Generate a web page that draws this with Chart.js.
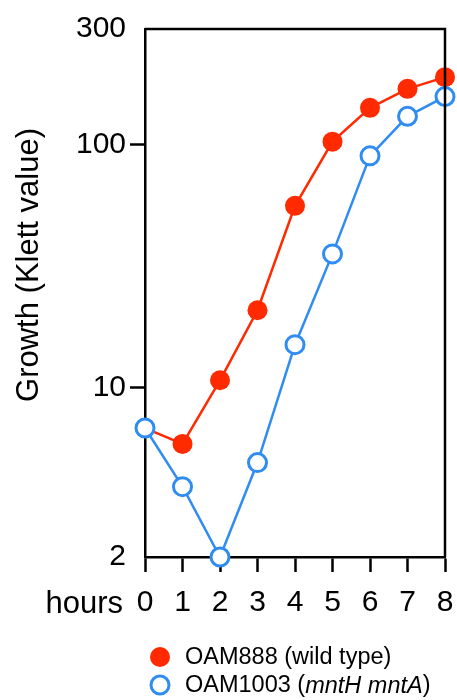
<!DOCTYPE html>
<html>
<head>
<meta charset="utf-8">
<script src="https://cdn.jsdelivr.net/npm/chart.js@4.4.1/dist/chart.umd.min.js"></script>
<style>
    html, body { margin: 0; padding: 0; background: #fff; }
    #grafico { display: block; }
</style>
</head>
<body>
<canvas id="grafico" width="457" height="700"></canvas>
<script>
    const horas = [0, 1, 2, 3, 4, 5, 6, 7, 8];
    const tipoSelvagem = [6.8, 5.85, 10.7, 20.8, 56, 103, 142, 170, 190];
    const mutante = [6.8, 3.9, 2, 4.9, 15, 35.5, 90, 131, 158];
    const ticksY = [2, 10, 100, 300];

    const VERMELHO = '#ff2a00';
    const AZUL = '#2f8cf2';
    const FONTE = '"Liberation Sans", Arial, Helvetica, sans-serif';

    // moldura, título do eixo y, rótulo "hours" e legenda desenhados à mão
    const extras = {
        id: 'extras',
        afterDatasetsDraw(chart) {
            const ctx = chart.ctx;
            const area = chart.chartArea;
            ctx.save();
            ctx.strokeStyle = '#000';
            ctx.lineWidth = 2.5;
            ctx.beginPath();
            ctx.moveTo(area.left, area.top);
            ctx.lineTo(area.right, area.top);
            ctx.lineTo(area.right, area.bottom);
            ctx.stroke();

            ctx.fillStyle = '#000';
            ctx.textBaseline = 'middle';

            ctx.save();
            ctx.translate(29, 265);
            ctx.rotate(-Math.PI / 2);
            ctx.textAlign = 'center';
            ctx.font = '31px ' + FONTE;
            ctx.fillText('Growth (Klett value)', 0, 0);
            ctx.restore();

            ctx.font = '31px ' + FONTE;
            ctx.textAlign = 'right';
            ctx.fillText('hours', 123, 604);

            // legenda
            ctx.lineWidth = 3;
            ctx.beginPath();
            ctx.arc(160, 657, 10, 0, Math.PI * 2);
            ctx.fillStyle = VERMELHO;
            ctx.fill();
            ctx.beginPath();
            ctx.arc(160, 685, 9, 0, Math.PI * 2);
            ctx.fillStyle = '#fff';
            ctx.fill();
            ctx.strokeStyle = AZUL;
            ctx.stroke();

            ctx.fillStyle = '#000';
            ctx.textAlign = 'left';
            const normal = '23.5px ' + FONTE;
            const italico = 'italic 23.5px ' + FONTE;
            ctx.font = normal;
            ctx.fillText('OAM888 (wild type)', 185, 658);
            let x = 185;
            const partes = [['OAM1003 (', normal], ['mntH mntA', italico], [')', normal]];
            partes.forEach(function (p) {
                ctx.font = p[1];
                ctx.fillText(p[0], x, 686);
                x += ctx.measureText(p[0]).width;
            });
            ctx.restore();
        }
    };

    new Chart(document.getElementById('grafico'), {
        type: 'line',
        data: {
            labels: horas,
            datasets: [{
                label: 'OAM888 (wild type)',
                data: tipoSelvagem,
                borderColor: VERMELHO,
                backgroundColor: VERMELHO,
                pointBackgroundColor: VERMELHO,
                pointBorderColor: VERMELHO,
                pointRadius: 10,
                pointBorderWidth: 0,
                borderWidth: 2.5,
                order: 2,
                clip: false
            }, {
                label: 'OAM1003 (mntH mntA)',
                data: mutante,
                borderColor: AZUL,
                backgroundColor: '#fff',
                pointBackgroundColor: '#fff',
                pointBorderColor: AZUL,
                pointRadius: 9,
                pointBorderWidth: 3,
                borderWidth: 2.5,
                order: 1,
                clip: false
            }]
        },
        options: {
            responsive: false,
            animation: false,
            layout: { autoPadding: false, padding: { left: 0, right: 12, top: 29, bottom: 0 } },
            plugins: {
                legend: { display: false },
                tooltip: { enabled: false }
            },
            scales: {
                x: {
                    type: 'linear',
                    min: 0,
                    max: 8,
                    afterFit: function (scale) {
                        scale.height = 143;
                        scale.paddingLeft = 0;
                        scale.paddingRight = 0;
                    },
                    ticks: {
                        stepSize: 1,
                        color: '#000',
                        padding: 13,
                        font: { family: FONTE, size: 30 }
                    },
                    grid: {
                        drawOnChartArea: false,
                        drawTicks: true,
                        tickLength: 15,
                        tickWidth: 2.5,
                        color: '#000'
                    },
                    border: { color: '#000', width: 2.5 }
                },
                y: {
                    type: 'logarithmic',
                    min: 2,
                    max: 300,
                    afterFit: function (scale) { scale.width = 145; },
                    afterBuildTicks: function (scale) {
                        scale.ticks = ticksY.map(function (v) { return { value: v }; });
                    },
                    ticks: {
                        color: '#000',
                        padding: 4,
                        font: { family: FONTE, size: 30 },
                        callback: function (v) { return String(v); }
                    },
                    grid: {
                        drawOnChartArea: false,
                        drawTicks: true,
                        tickLength: 15,
                        tickWidth: 2.5,
                        color: function (ctx) {
                            const v = ctx.tick ? ctx.tick.value : null;
                            return (v === 2 || v === 300) ? 'rgba(0,0,0,0)' : '#000';
                        }
                    },
                    border: { color: '#000', width: 2.5 }
                }
            }
        },
        plugins: [extras]
    });
</script>
</body>
</html>
